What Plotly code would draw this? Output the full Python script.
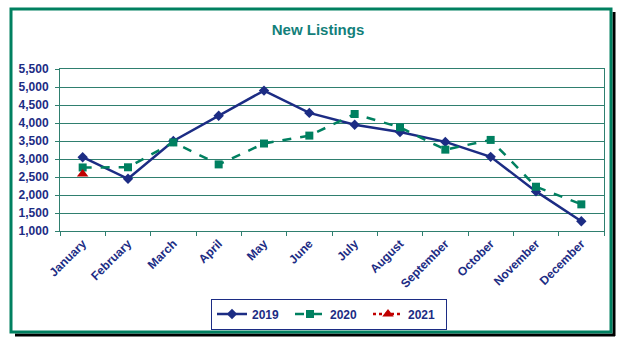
import plotly.graph_objects as go

months = ["January", "February", "March", "April", "May", "June", "July",
          "August", "September", "October", "November", "December"]
s2019 = [3050, 2450, 3500, 4200, 4900, 4280, 3950, 3750, 3475, 3060, 2100, 1270]
s2020 = [2765, 2770, 3460, 2850, 3430, 3650, 4250, 3880, 3260, 3530, 2230, 1740]
s2021 = [2580]
months2021 = months[:1]

NAVY = "#1C2C84"
GREEN = "#008060"
RED = "#C00000"
GRID = "#2F7F6F"
FONT = "Liberation Sans, Arial, sans-serif"

fig = go.Figure()
fig.add_trace(go.Scatter(x=months, y=s2019, name="2019", mode="lines+markers",
                         line=dict(color=NAVY, width=2.5),
                         marker=dict(symbol="diamond", size=8, color=NAVY)))
fig.add_trace(go.Scatter(x=months, y=s2020, name="2020", mode="lines+markers",
                         line=dict(color=GREEN, width=2.5, dash="dash"),
                         marker=dict(symbol="square", size=8, color=GREEN)))
fig.add_trace(go.Scatter(x=months2021, y=s2021, name="2021", mode="lines+markers",
                         line=dict(color=RED, width=2.5, dash="dot"),
                         marker=dict(symbol="triangle-up", size=10, color=RED)))

L, R, T, B = 60, 604, 69, 231
W, H = 631, 349
pw, ph = R - L, B - T

def px(x):
    return (x - L) / pw

def py(y):
    return (B - y) / ph

shapes = [
    dict(type="line", xref="paper", yref="paper", x0=px(614), x1=px(614), y0=py(12), y1=py(336),
         line=dict(color="black", width=3)),
    dict(type="line", xref="paper", yref="paper", x0=px(15), x1=px(615), y0=py(335), y1=py(335),
         line=dict(color="black", width=3)),
    dict(type="rect", xref="paper", yref="paper", x0=px(11), x1=px(611), y0=py(9), y1=py(332),
         line=dict(color=GREEN, width=3)),
]

fig.update_layout(
    width=W, height=H,
    margin=dict(l=L, r=W - R, t=T, b=H - B),
    paper_bgcolor="white", plot_bgcolor="white",
    font=dict(family=FONT, color=NAVY, size=12),
    title=dict(text="<b>New Listings</b>", x=318 / W, xanchor="center",
               y=1 - 30 / H, yanchor="middle",
               font=dict(family=FONT, size=15, color="#13807A")),
    shapes=shapes,
    showlegend=True,
    legend=dict(orientation="h", x=px(329), y=py(314), xanchor="center", yanchor="middle",
                bordercolor=NAVY, borderwidth=1, bgcolor="white",
                font=dict(family=FONT, size=12, color=NAVY, weight="bold"),
                itemwidth=30, entrywidth=33, tracegroupgap=0),
    xaxis=dict(type="category", range=[-0.5, 11.5], tickangle=-45, showgrid=False,
               showline=True, linecolor=GRID, linewidth=1, mirror=True,
               ticks="outside", tickson="boundaries", ticklen=4, tickcolor=GRID,
               tickfont=dict(family=FONT, size=12, color=NAVY, weight="bold")),
    yaxis=dict(range=[1000, 5500], dtick=500, tickformat=",", showgrid=True,
               gridcolor=GRID, gridwidth=1, showline=True, linecolor=GRID,
               mirror=True, ticks="outside", ticklen=4, tickcolor=GRID,
               zeroline=False, ticklabelstandoff=4,
               tickfont=dict(family=FONT, size=12, color=NAVY, weight="bold")),
)

fig.write_html("out.html")
